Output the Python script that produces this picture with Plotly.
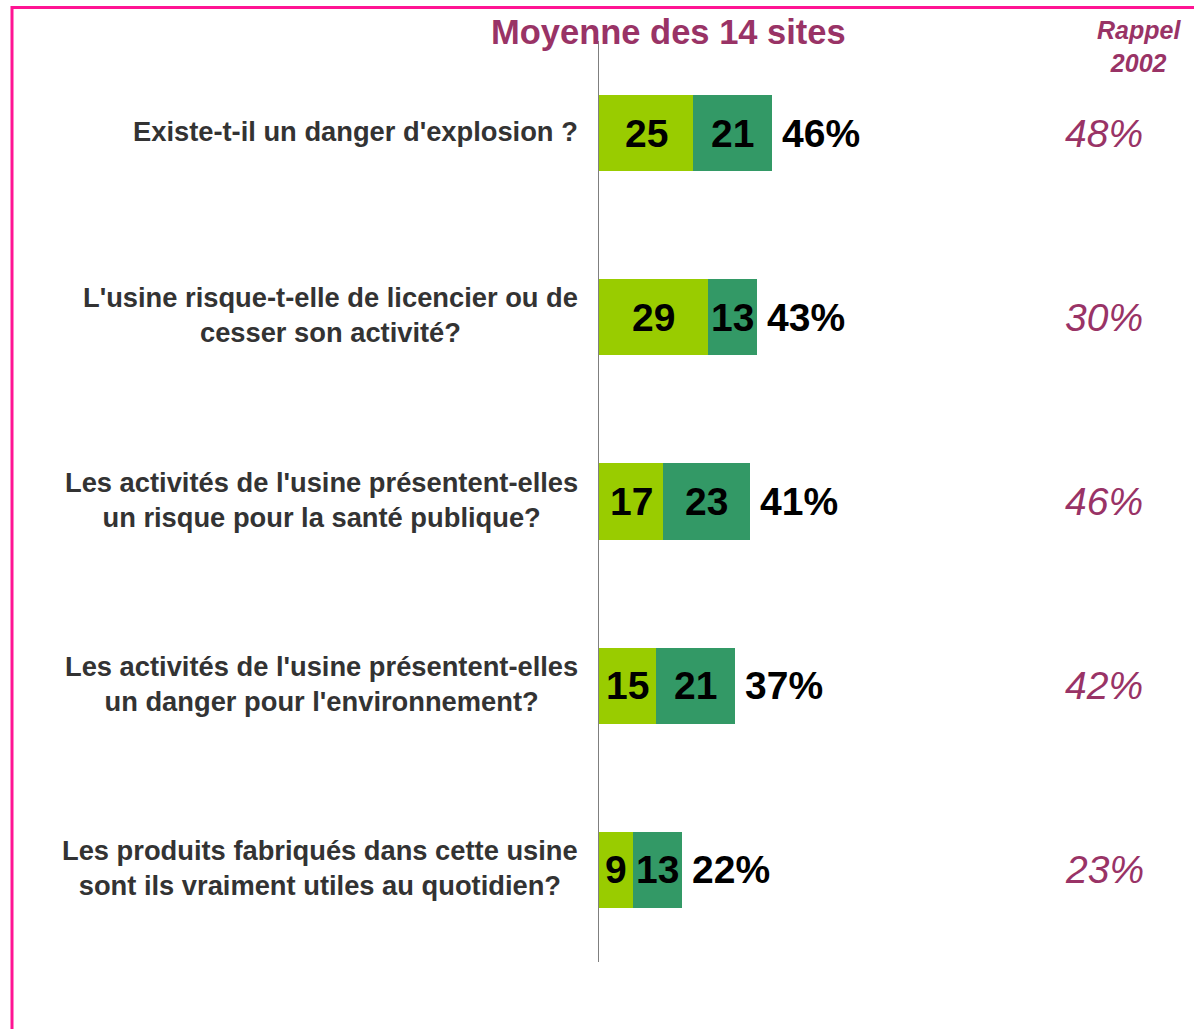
import plotly.graph_objects as go

questions = [
    "Existe-t-il un danger d'explosion ?",
    "L'usine risque-t-elle de licencier ou de<br>cesser son activité?",
    "Les activités de l'usine présentent-elles<br>un risque pour la santé publique?",
    "Les activités de l'usine présentent-elles<br>un danger pour l'environnement?",
    "Les produits fabriqués dans cette usine<br>sont ils vraiment utiles au quotidien?",
]
part_light = [25, 29, 17, 15, 9]
part_dark = [21, 13, 23, 21, 13]
totals = ["46%", "43%", "41%", "37%", "22%"]
rappel_2002 = ["48%", "30%", "46%", "42%", "23%"]

LIGHT = "#99CC00"
DARK = "#339966"
PURPLE = "#993366"
PINK = "#FF1493"
FONT = "Liberation Sans, Arial"

W, H = 1194, 1029
L, R, T, B = 599, 14, 41, 67
plot_w = W - L - R
plot_h = H - T - B
px_per_unit = 3.77
xmax = plot_w / px_per_unit

cats = list(range(len(questions)))

fig = go.Figure()
fig.add_trace(go.Bar(y=cats, x=part_light, orientation="h", marker=dict(color=LIGHT, line=dict(width=0)),
                     name="a", hoverinfo="skip"))
fig.add_trace(go.Bar(y=cats, x=part_dark, orientation="h", marker=dict(color=DARK, line=dict(width=0)),
                     name="b", hoverinfo="skip"))

ann = []
for i in cats:
    ann.append(dict(x=part_light[i] / 2, y=i, xref="x", yref="y", text="<b>%d</b>" % part_light[i],
                    showarrow=False, font=dict(size=39, color="black", family=FONT),
                    xanchor="center", yanchor="middle"))
    ann.append(dict(x=part_light[i] + part_dark[i] / 2, y=i, xref="x", yref="y", text="<b>%d</b>" % part_dark[i],
                    showarrow=False, font=dict(size=39, color="black", family=FONT),
                    xanchor="center", yanchor="middle"))
    ann.append(dict(x=part_light[i] + part_dark[i], y=i, xref="x", yref="y", text="<b>%s</b>" % totals[i],
                    showarrow=False, font=dict(size=39, color="black", family=FONT),
                    xanchor="left", yanchor="middle", xshift=8))
    ann.append(dict(x=(1104 - L) / plot_w, y=i, xref="paper", yref="y", text="<i>%s</i>" % rappel_2002[i],
                    showarrow=False, font=dict(size=39, color=PURPLE, family=FONT),
                    xanchor="center", yanchor="middle"))
    ann.append(dict(x=(580 - L) / plot_w, y=i, xref="paper", yref="y", text="<b>%s</b>" % questions[i],
                    showarrow=False, font=dict(size=27.3, color="#333333", family=FONT),
                    xanchor="right", yanchor="middle", align="center", yshift=2))

ann.append(dict(x=(668 - L) / plot_w, y=1 + (T - 32) / plot_h, xref="paper", yref="paper",
                text="<b>Moyenne des 14 sites</b>", showarrow=False,
                font=dict(size=34.5, color=PURPLE, family=FONT),
                xanchor="center", yanchor="middle"))
ann.append(dict(x=(1139 - L) / plot_w, y=1 - (46 - T) / plot_h, xref="paper", yref="paper",
                text="<b><i>Rappel<br>2002</i></b>", showarrow=False,
                font=dict(size=25, color=PURPLE, family=FONT),
                xanchor="center", yanchor="middle", align="center"))

xl = (12 - L) / plot_w
xr = (W + 10 - L) / plot_w
yt = 1 + (T - 7.5) / plot_h
yb = -(B + 10) / plot_h
shapes = [dict(type="path", xref="paper", yref="paper",
               path=f"M {xl},{yb} L {xl},{yt} L {xr},{yt}",
               line=dict(color=PINK, width=3))]

fig.update_layout(
    width=W, height=H,
    margin=dict(l=L, r=R, t=T, b=B, pad=0),
    barmode="stack", bargap=0.587,
    showlegend=False,
    plot_bgcolor="white", paper_bgcolor="white",
    xaxis=dict(range=[0, xmax], visible=False, fixedrange=True),
    yaxis=dict(range=[len(questions) - 0.5, -0.5], showticklabels=False, showgrid=False,
               zeroline=False, showline=True, linecolor="#7f7f7f", linewidth=1, ticks=""),
    annotations=ann, shapes=shapes,
)

fig.write_html("out.html", config={"displayModeBar": False},
               post_script="document.body.style.margin='0';document.body.style.overflow='hidden';")
